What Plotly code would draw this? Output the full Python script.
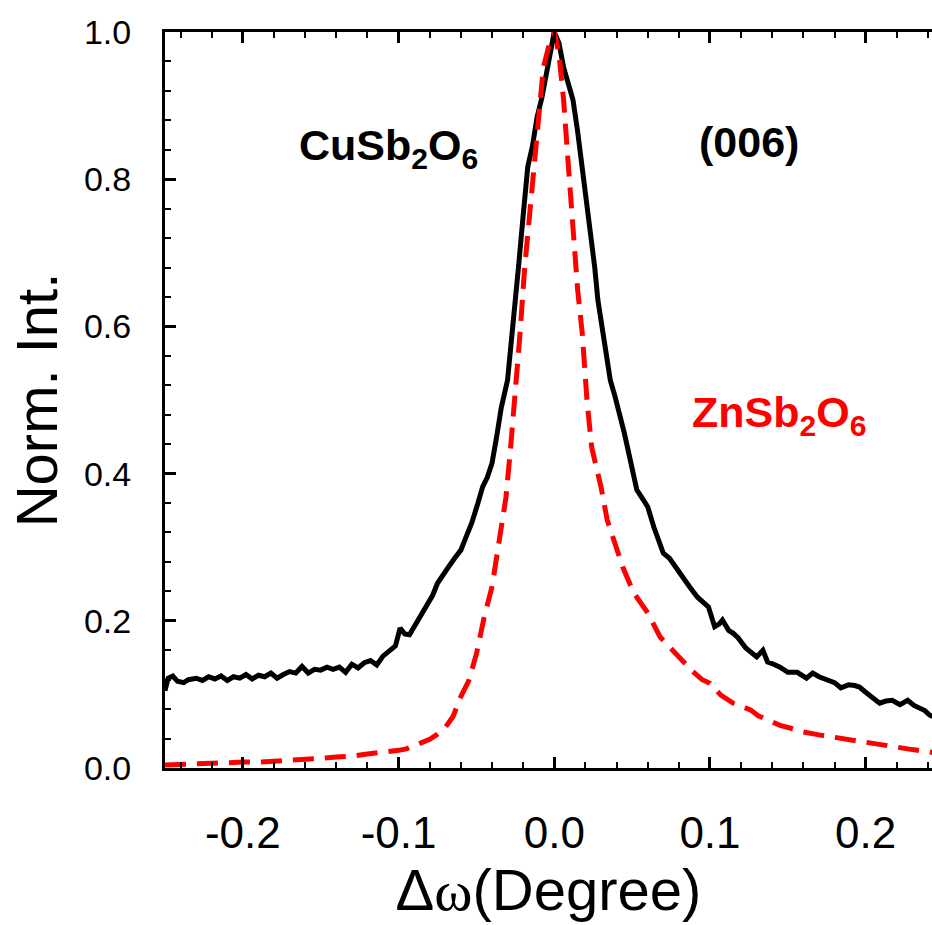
import plotly.graph_objects as go

# ---- data ----
cu_x = [-0.250, -0.248, -0.245, -0.242, -0.238, -0.235, -0.230, -0.226, -0.222, -0.218,
        -0.214, -0.210, -0.206, -0.202, -0.198, -0.194, -0.190, -0.186, -0.182, -0.178,
        -0.174, -0.170, -0.166, -0.162, -0.158, -0.154, -0.150, -0.146, -0.142, -0.138,
        -0.134, -0.130, -0.126, -0.122, -0.118, -0.114, -0.110, -0.106, -0.102, -0.099,
        -0.096, -0.093, -0.090, -0.086, -0.082, -0.078, -0.075, -0.071, -0.068, -0.064,
        -0.060, -0.057, -0.053, -0.049, -0.046, -0.043, -0.040, -0.037, -0.034, -0.030,
        -0.027, -0.023, -0.020, -0.017, -0.014, -0.011, -0.008, -0.004, 0.000, 0.003,
        0.006, 0.009, 0.012, 0.015, 0.018, 0.021, 0.023, 0.026, 0.028, 0.032,
        0.036, 0.039, 0.042, 0.045, 0.047, 0.050, 0.053, 0.057, 0.060, 0.064,
        0.067, 0.070, 0.074, 0.079, 0.083, 0.087, 0.092, 0.096, 0.099, 0.103,
        0.106, 0.108, 0.112, 0.115, 0.118, 0.123, 0.127, 0.130, 0.134, 0.137,
        0.141, 0.145, 0.150, 0.156, 0.162, 0.166, 0.170, 0.175, 0.180, 0.184,
        0.189, 0.193, 0.196, 0.200, 0.205, 0.209, 0.213, 0.217, 0.222, 0.227,
        0.231, 0.235, 0.238, 0.241, 0.243]
cu_y = [0.105, 0.122, 0.125, 0.118, 0.116, 0.120, 0.122, 0.119, 0.124, 0.121,
        0.125, 0.119, 0.124, 0.122, 0.127, 0.121, 0.126, 0.124, 0.129, 0.122,
        0.127, 0.131, 0.129, 0.138, 0.129, 0.134, 0.133, 0.137, 0.134, 0.137,
        0.130, 0.141, 0.136, 0.143, 0.146, 0.140, 0.152, 0.160, 0.166, 0.190,
        0.182, 0.181, 0.192, 0.205, 0.219, 0.235, 0.251, 0.262, 0.273, 0.285,
        0.296, 0.312, 0.333, 0.360, 0.382, 0.395, 0.414, 0.450, 0.490, 0.527,
        0.600, 0.680, 0.750, 0.817, 0.845, 0.885, 0.910, 0.960, 1.000, 0.985,
        0.952, 0.930, 0.908, 0.865, 0.817, 0.770, 0.727, 0.680, 0.636, 0.580,
        0.527, 0.505, 0.482, 0.455, 0.436, 0.405, 0.378, 0.365, 0.355, 0.327,
        0.310, 0.292, 0.285, 0.269, 0.258, 0.246, 0.232, 0.224, 0.219, 0.192,
        0.196, 0.201, 0.187, 0.183, 0.177, 0.163, 0.157, 0.151, 0.160, 0.144,
        0.141, 0.137, 0.130, 0.130, 0.122, 0.129, 0.124, 0.120, 0.116, 0.109,
        0.113, 0.112, 0.110, 0.103, 0.095, 0.088, 0.091, 0.092, 0.086, 0.092,
        0.085, 0.082, 0.078, 0.072, 0.070]

zn_x = [-0.250, -0.240, -0.230, -0.220, -0.210, -0.200, -0.190, -0.180, -0.170, -0.160,
        -0.150, -0.140, -0.130, -0.120, -0.110, -0.100, -0.095, -0.090, -0.085, -0.080,
        -0.075, -0.070, -0.065, -0.060, -0.055, -0.050, -0.045, -0.040, -0.036, -0.031,
        -0.028, -0.025, -0.022, -0.019, -0.016, -0.013, -0.010, -0.007, -0.003, 0.000,
        0.003, 0.006, 0.009, 0.012, 0.015, 0.018, 0.021, 0.024, 0.030, 0.034,
        0.038, 0.044, 0.051, 0.060, 0.068, 0.075, 0.081, 0.089, 0.095, 0.100,
        0.107, 0.115, 0.120, 0.126, 0.131, 0.137, 0.145, 0.152, 0.160, 0.170,
        0.179, 0.190, 0.201, 0.210, 0.220, 0.230, 0.241, 0.243]
zn_y = [0.004, 0.005, 0.006, 0.007, 0.007, 0.008, 0.008, 0.009, 0.010, 0.011,
        0.013, 0.015, 0.016, 0.019, 0.021, 0.024, 0.026, 0.030, 0.034, 0.039,
        0.046, 0.055, 0.070, 0.097, 0.118, 0.155, 0.205, 0.246, 0.300, 0.368,
        0.436, 0.510, 0.590, 0.680, 0.750, 0.817, 0.880, 0.952, 0.985, 1.000,
        0.970, 0.908, 0.820, 0.727, 0.650, 0.590, 0.500, 0.436, 0.382, 0.337,
        0.310, 0.273, 0.238, 0.211, 0.178, 0.162, 0.149, 0.131, 0.120, 0.115,
        0.099, 0.088, 0.084, 0.079, 0.071, 0.065, 0.058, 0.054, 0.049, 0.045,
        0.042, 0.038, 0.034, 0.031, 0.027, 0.025, 0.022, 0.021]

x_tickvals = [-0.2, -0.1, 0.0, 0.1, 0.2]
x_ticktext = ["-0.2", "-0.1", "0.0", "0.1", "0.2"]
y_tickvals = [0.0, 0.2, 0.4, 0.6, 0.8, 1.0]
y_ticktext = ["0.0", "0.2", "0.4", "0.6", "0.8", "1.0"]

FONT = "Liberation Sans, Arial, sans-serif"

fig = go.Figure()
fig.add_trace(go.Scatter(x=cu_x, y=cu_y, mode="lines", name="CuSb2O6",
                         line=dict(color="black", width=5)))
fig.add_trace(go.Scatter(x=zn_x, y=zn_y, mode="lines", name="ZnSb2O6",
                         line=dict(color="#ff0000", width=5, dash="21px,11px")))

fig.update_layout(
    width=932, height=925,
    margin=dict(l=165, r=0, t=32, b=157),
    paper_bgcolor="white", plot_bgcolor="white",
    showlegend=False,
    font=dict(family=FONT, color="black"),
)

fig.update_xaxes(
    range=[-0.25, 0.2426], showgrid=False, zeroline=False,
    showline=True, linecolor="black", linewidth=3, mirror="ticks",
    tickmode="array", tickvals=x_tickvals, ticktext=x_ticktext,
    ticks="inside", ticklen=11, tickwidth=2.5, tickcolor="black",
    tickfont=dict(size=44, family=FONT), ticklabelstandoff=24,
    minor=dict(dtick=0.02, tick0=0, ticks="inside", ticklen=6, tickwidth=2, tickcolor="black"),
    title=dict(text="Δ<span style='font-family:Liberation Serif'>ω</span>(Degree)",
               font=dict(size=58, family=FONT), standoff=14),
)
fig.update_yaxes(
    range=[0, 1.0], showgrid=False, zeroline=False,
    showline=True, linecolor="black", linewidth=3, mirror=False,
    tickmode="array", tickvals=y_tickvals, ticktext=y_ticktext,
    ticks="inside", ticklen=11, tickwidth=2.5, tickcolor="black",
    tickfont=dict(size=34, family=FONT), ticklabelstandoff=24,
    minor=dict(dtick=0.04, tick0=0, ticks="inside", ticklen=6, tickwidth=2, tickcolor="black"),
    title=dict(text="Norm. Int.", font=dict(size=58, family=FONT), standoff=8),
)

fig.add_annotation(x=(297 - 165) / 767, y=(768 - 148) / 736, xref="paper", yref="paper",
                   text="<b>CuSb<sub>2</sub>O<sub>6</sub></b>", showarrow=False,
                   xanchor="left", yanchor="middle", font=dict(size=43, color="black", family=FONT))
fig.add_annotation(x=(697 - 165) / 767, y=(768 - 142) / 736, xref="paper", yref="paper",
                   text="<b>(006)</b>", showarrow=False,
                   xanchor="left", yanchor="middle", font=dict(size=43, color="black", family=FONT))
fig.add_annotation(x=(690 - 165) / 767, y=(768 - 415) / 736, xref="paper", yref="paper",
                   text="<b>ZnSb<sub>2</sub>O<sub>6</sub></b>", showarrow=False,
                   xanchor="left", yanchor="middle", font=dict(size=43, color="#ff0000", family=FONT))

fig.write_html("out.html")
